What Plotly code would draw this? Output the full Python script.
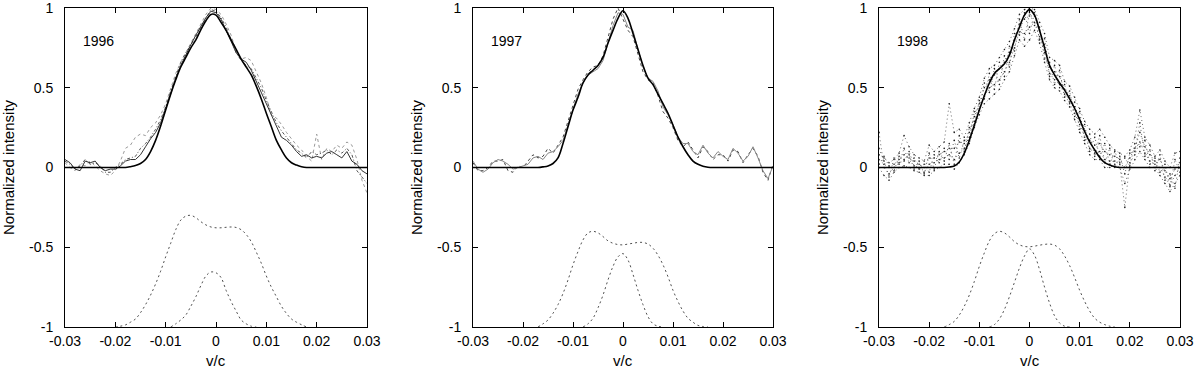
import plotly.graph_objects as go

# ---------------- data ----------------
V = [-0.030, -0.029, -0.028, -0.027, -0.026, -0.025, -0.024, -0.023, -0.022, -0.021,
     -0.020, -0.019, -0.018, -0.017, -0.016, -0.015, -0.014, -0.013, -0.012, -0.011,
     -0.010, -0.009, -0.008, -0.007, -0.006, -0.005, -0.004, -0.003, -0.002, -0.001,
     0.000, 0.001, 0.002, 0.003, 0.004, 0.005, 0.006, 0.007, 0.008, 0.009,
     0.010, 0.011, 0.012, 0.013, 0.014, 0.015, 0.016, 0.017, 0.018, 0.019,
     0.020, 0.021, 0.022, 0.023, 0.024, 0.025, 0.026, 0.027, 0.028, 0.029, 0.030]

YEARS = ["1996", "1997", "1998"]

# model fits (solid)
MODEL_1996 = [0, 0, 0, 0, 0, 0, 0, 0, 0, 0, 0, 0, 0,
              0.005, 0.012, 0.025, 0.05, 0.1, 0.17, 0.26, 0.36, 0.46, 0.55, 0.63, 0.69, 0.75,
              0.80, 0.865, 0.92, 0.96, 0.955, 0.91, 0.86, 0.80, 0.74, 0.68, 0.63, 0.58, 0.51,
              0.43, 0.34, 0.255, 0.17, 0.11, 0.06, 0.03, 0.015, 0.005,
              0, 0, 0, 0, 0, 0, 0, 0, 0, 0, 0, 0, 0]
MODEL_1997 = [0, 0, 0, 0, 0, 0, 0, 0, 0, 0, 0, 0, 0, 0,
              0.004, 0.01, 0.025, 0.06, 0.15, 0.255, 0.36, 0.44, 0.53, 0.58, 0.61, 0.64, 0.69,
              0.78, 0.86, 0.935, 0.983, 0.935, 0.84, 0.74, 0.64, 0.56, 0.52, 0.46, 0.40, 0.34,
              0.265, 0.19, 0.13, 0.08, 0.04, 0.02, 0.008, 0.002,
              0, 0, 0, 0, 0, 0, 0, 0, 0, 0, 0, 0, 0]
MODEL_1998 = [0, 0, 0, 0, 0, 0, 0, 0, 0, 0, 0, 0, 0, 0,
              0.003, 0.01, 0.035, 0.09, 0.17, 0.265, 0.36, 0.45, 0.53, 0.59, 0.62, 0.65, 0.705,
              0.80, 0.88, 0.955, 0.99, 0.955, 0.86, 0.75, 0.64, 0.58, 0.53, 0.485, 0.43, 0.37,
              0.30, 0.225, 0.16, 0.11, 0.063, 0.03, 0.015, 0.005,
              0, 0, 0, 0, 0, 0, 0, 0, 0, 0, 0, 0, 0]

# observed profiles 1996
OBS96_A = [0.05, 0.03, -0.01, -0.02, 0.04, 0.03, 0.04, 0.0, -0.02, -0.01,
           -0.01, 0.01, 0.04, 0.05, 0.05, 0.08, 0.13, 0.18, 0.22, 0.28,
           0.37, 0.47, 0.56, 0.64, 0.71, 0.77, 0.83, 0.89, 0.94, 0.98,
           0.97, 0.93, 0.86, 0.78, 0.72, 0.68, 0.66, 0.61, 0.54, 0.47,
           0.39, 0.32, 0.25, 0.19, 0.17, 0.14, 0.10, 0.07, 0.08, 0.06,
           0.07, 0.06, 0.09, 0.10, 0.08, 0.06, 0.10, 0.04, 0.02, -0.02, -0.04]
OBS96_B = [0.03, 0.0, -0.02, 0.02, 0.01, 0.04, 0.01, -0.02, -0.04, -0.05,
           -0.02, 0.04, 0.12, 0.14, 0.19, 0.21, 0.20, 0.25, 0.28, 0.33,
           0.40, 0.50, 0.59, 0.66, 0.72, 0.78, 0.85, 0.91, 0.96, 1.0,
           0.99, 0.96, 0.90, 0.83, 0.73, 0.68, 0.69, 0.67, 0.60, 0.53,
           0.44, 0.33, 0.31, 0.27, 0.22, 0.18, 0.14, 0.11, 0.07, 0.04,
           0.21, 0.05, 0.12, 0.10, 0.14, 0.12, 0.16, 0.14, 0.05, -0.08, -0.16]
OBS96_C = [0.04, 0.02, -0.01, 0.01, 0.05, 0.02, 0.03, 0.01, -0.03, -0.03,
           0.0, 0.02, 0.05, 0.06, 0.07, 0.12, 0.15, 0.19, 0.24, 0.30,
           0.38, 0.48, 0.57, 0.66, 0.72, 0.77, 0.82, 0.88, 0.94, 0.99,
           0.98, 0.94, 0.88, 0.80, 0.72, 0.67, 0.64, 0.62, 0.56, 0.50,
           0.42, 0.35, 0.28, 0.23, 0.19, 0.15, 0.11, 0.09, 0.06, 0.10,
           0.08, 0.09, 0.11, 0.08, 0.11, 0.09, 0.12, 0.08, -0.02, -0.06, -0.10]

# observed profiles 1997
OBS97_A = [0.04, -0.01, -0.03, -0.01, 0.03, 0.05, 0.04, 0.02, -0.01, 0.0,
           0.01, 0.02, 0.06, 0.07, 0.05, 0.09, 0.10, 0.13, 0.17, 0.27,
           0.37, 0.46, 0.53, 0.58, 0.60, 0.62, 0.67, 0.78, 0.89, 0.97,
           0.96, 0.88, 0.86, 0.74, 0.63, 0.56, 0.54, 0.48, 0.38, 0.33,
           0.27, 0.19, 0.15, 0.15, 0.10, 0.08, 0.14, 0.09, 0.06, 0.10,
           0.07, 0.05, 0.12, 0.09, 0.04, 0.07, 0.13, 0.06, -0.02, -0.07, 0.01]
OBS97_B = [0.03, -0.02, -0.02, 0.0, 0.04, 0.04, 0.05, -0.02, -0.03, 0.01,
           0.0, 0.04, 0.08, 0.06, 0.07, 0.12, 0.09, 0.14, 0.19, 0.29,
           0.39, 0.49, 0.55, 0.60, 0.63, 0.64, 0.70, 0.82, 0.93, 1.0,
           0.93, 0.86, 0.82, 0.71, 0.60, 0.55, 0.53, 0.45, 0.35, 0.31,
           0.25, 0.17, 0.13, 0.16, 0.11, 0.06, 0.13, 0.10, 0.05, 0.08,
           0.08, 0.04, 0.11, 0.10, 0.03, 0.08, 0.12, 0.07, -0.03, -0.08, 0.02]

# observed profiles 1998 (scattered)
OBS98_A = [0.08, 0.06, 0.03, 0.05, 0.09, 0.20, 0.13, 0.08, 0.06, 0.04,
           0.14, 0.10, 0.13, 0.16, 0.40, 0.22, 0.24, 0.19, 0.28, 0.37,
           0.44, 0.56, 0.62, 0.64, 0.69, 0.74, 0.79, 0.87, 0.96, 0.99,
           1.0, 0.99, 0.91, 0.84, 0.69, 0.67, 0.64, 0.54, 0.51, 0.44,
           0.37, 0.29, 0.24, 0.21, 0.24, 0.19, 0.14, 0.11, 0.09, 0.07,
           0.11, 0.19, 0.36, 0.19, 0.14, 0.07, 0.11, 0.04, 0.0, 0.09, 0.10]
OBS98_B = [0.0, -0.05, -0.08, -0.03, 0.0, 0.01, 0.0, -0.02, -0.03, -0.05,
           -0.05, -0.02, 0.0, 0.02, 0.02, -0.01, 0.03, 0.08, 0.15, 0.25,
           0.33, 0.40, 0.43, 0.46, 0.49, 0.55, 0.60, 0.70, 0.80, 0.76,
           0.80, 0.86, 0.78, 0.66, 0.55, 0.50, 0.48, 0.42, 0.38, 0.30,
           0.22, 0.15, 0.08, 0.05, 0.05, 0.0, 0.0, 0.02, 0.0, -0.10,
           -0.01, 0.05, 0.10, 0.05, 0.0, 0.0, -0.05, -0.10, -0.15, -0.10, -0.05]
OBS98_C = [0.05, 0.02, 0.0, 0.02, 0.05, 0.08, 0.06, 0.04, 0.02, 0.0,
           0.06, 0.06, 0.08, 0.10, 0.12, 0.12, 0.16, 0.15, 0.22, 0.32,
           0.40, 0.50, 0.55, 0.58, 0.62, 0.66, 0.72, 0.80, 0.90, 0.93,
           0.95, 0.95, 0.86, 0.77, 0.63, 0.60, 0.57, 0.49, 0.45, 0.38,
           0.31, 0.23, 0.17, 0.14, 0.15, 0.10, 0.08, 0.07, 0.05, 0.0,
           0.06, 0.12, 0.22, 0.13, 0.08, 0.04, 0.05, -0.02, -0.07, -0.01, 0.03]
OBS98_D = [0.22, 0.0, -0.04, 0.0, 0.03, 0.04, 0.10, 0.01, 0.0, -0.03,
           0.02, 0.03, 0.05, 0.06, 0.08, 0.05, 0.09, 0.12, 0.19, 0.29,
           0.37, 0.45, 0.50, 0.52, 0.55, 0.60, 0.66, 0.75, 0.85, 0.84,
           0.88, 0.91, 0.82, 0.72, 0.59, 0.55, 0.52, 0.46, 0.41, 0.34,
           0.27, 0.19, 0.12, 0.09, 0.10, 0.05, 0.04, 0.04, 0.02, -0.25,
           0.03, 0.08, 0.16, 0.09, 0.04, 0.02, 0.0, -0.06, -0.11, -0.05, 0.0]
OBS98_E = [0.12, 0.04, -0.06, 0.06, 0.02, 0.12, 0.03, 0.06, -0.01, 0.02,
           -0.03, 0.08, 0.03, 0.12, 0.05, 0.17, 0.06, 0.17, 0.17, 0.35,
           0.36, 0.53, 0.47, 0.62, 0.52, 0.70, 0.63, 0.84, 0.83, 0.97,
           0.84, 0.97, 0.80, 0.81, 0.57, 0.64, 0.50, 0.52, 0.40, 0.41,
           0.24, 0.27, 0.10, 0.19, 0.07, 0.15, 0.02, 0.10, 0.03, 0.06,
           0.01, 0.15, 0.13, 0.17, 0.02, 0.06, -0.03, 0.02, -0.12, 0.05, -0.03]
OBS98_F = [0.02, 0.07, 0.01, -0.02, 0.07, 0.05, 0.08, -0.01, 0.04, -0.04,
           0.09, -0.01, 0.10, 0.04, 0.15, 0.02, 0.20, 0.10, 0.25, 0.27,
           0.42, 0.43, 0.59, 0.49, 0.66, 0.57, 0.76, 0.73, 0.93, 0.80,
           0.97, 0.89, 0.88, 0.68, 0.66, 0.52, 0.61, 0.44, 0.48, 0.32,
           0.35, 0.17, 0.21, 0.07, 0.20, 0.03, 0.12, 0.0, 0.07, -0.04,
           0.09, 0.10, 0.28, 0.07, 0.11, -0.02, 0.08, -0.08, -0.04, -0.13, 0.06]

# decomposition components (dashed, offset by -1)
BROAD_96_X = [-0.020, -0.019, -0.018, -0.017, -0.016, -0.015, -0.014, -0.013, -0.012, -0.011,
              -0.010, -0.009, -0.008, -0.007, -0.006, -0.005, -0.004, -0.003, -0.002, -0.001,
              0.000, 0.001, 0.002, 0.003, 0.004, 0.005, 0.006, 0.007, 0.008, 0.009,
              0.010, 0.011, 0.012, 0.013, 0.014, 0.015, 0.016, 0.017, 0.018]
BROAD_96 = [-1.0, -0.995, -0.987, -0.97, -0.95, -0.91, -0.86, -0.80, -0.73, -0.65,
            -0.56, -0.475, -0.39, -0.33, -0.305, -0.30, -0.315, -0.34, -0.36, -0.373,
            -0.378, -0.378, -0.375, -0.373, -0.376, -0.39, -0.42, -0.465, -0.53, -0.60,
            -0.68, -0.75, -0.81, -0.87, -0.915, -0.95, -0.97, -0.986, -1.0]
NARROW_96_X = [-0.009, -0.008, -0.007, -0.006, -0.005, -0.004, -0.003, -0.002, -0.001,
               0.000, 0.001, 0.002, 0.003, 0.004, 0.005, 0.006, 0.007, 0.008]
NARROW_96 = [-1.0, -0.98, -0.956, -0.925, -0.87, -0.81, -0.74, -0.68, -0.655,
             -0.66, -0.69, -0.77, -0.84, -0.90, -0.956, -0.98, -0.995, -1.0]

BROAD_X = [-0.017, -0.016, -0.015, -0.014, -0.013, -0.012, -0.011, -0.010, -0.009, -0.008,
           -0.007, -0.006, -0.005, -0.004, -0.003, -0.002, -0.001, 0.000, 0.001, 0.002,
           0.003, 0.004, 0.005, 0.006, 0.007, 0.008, 0.009, 0.010, 0.011, 0.012,
           0.013, 0.014, 0.015, 0.016, 0.017]
BROAD_97 = [-1.0, -0.98, -0.956, -0.914, -0.86, -0.79, -0.705, -0.61, -0.527, -0.454,
            -0.41, -0.40, -0.41, -0.433, -0.46, -0.475, -0.483, -0.485, -0.48, -0.475,
            -0.47, -0.47, -0.48, -0.506, -0.55, -0.61, -0.685, -0.77, -0.84, -0.90,
            -0.945, -0.97, -0.99, -0.997, -1.0]
BROAD_98 = [-1.0, -0.985, -0.965, -0.925, -0.87, -0.80, -0.715, -0.62, -0.535, -0.46,
            -0.415, -0.40, -0.41, -0.435, -0.465, -0.485, -0.495, -0.497, -0.493, -0.487,
            -0.482, -0.48, -0.487, -0.51, -0.555, -0.615, -0.69, -0.77, -0.84, -0.90,
            -0.945, -0.97, -0.985, -0.995, -1.0]
NARROW_X = [-0.008, -0.007, -0.006, -0.005, -0.004, -0.003, -0.002, -0.001,
            0.000, 0.001, 0.002, 0.003, 0.004, 0.005, 0.006, 0.007, 0.008]
NARROW_97 = [-1.0, -0.98, -0.945, -0.88, -0.80, -0.705, -0.62, -0.56,
             -0.54, -0.58, -0.67, -0.77, -0.86, -0.935, -0.98, -0.995, -1.0]
NARROW_98 = [-1.0, -0.985, -0.95, -0.89, -0.81, -0.72, -0.63, -0.555,
             -0.51, -0.55, -0.64, -0.75, -0.85, -0.93, -0.975, -0.995, -1.0]

X_TICKS = [-0.03, -0.02, -0.01, 0, 0.01, 0.02, 0.03]
X_TICK_TEXT = ["-0.03", "-0.02", "-0.01", "0", "0.01", "0.02", "0.03"]
Y_TICKS = [-1, -0.5, 0, 0.5, 1]
Y_TICK_TEXT = ["-1", "-0.5", "0", "0.5", "1"]

# ---------------- figure ----------------
W, H = 1200, 375
FONT = "Liberation Sans, Arial, Helvetica, sans-serif"
x_domains = [(65 / W, 367 / W), (473 / W, 773 / W), (879 / W, 1180 / W)]
y_domain = (1 - 327 / H, 1 - 8 / H)

fig = go.Figure()


def add_line(i, x, y, color, width, dash="solid", shape="linear"):
    ax = "" if i == 0 else str(i + 1)
    fig.add_trace(go.Scatter(x=x, y=y, mode="lines", xaxis="x" + ax, yaxis="y" + ax,
                             line=dict(color=color, width=width, dash=dash, shape=shape),
                             showlegend=False, hoverinfo="skip"))


COMP_COLOR = "#505050"
COMP_DASH = "2px,3px"

# 1996
add_line(0, V, OBS96_B, "#9a9a9a", 1, "dot")
add_line(0, V, OBS96_C, "#555555", 1, "3px,2px,1px,2px")
add_line(0, V, OBS96_A, "#333333", 1, "solid")
add_line(0, BROAD_96_X, BROAD_96, COMP_COLOR, 1, COMP_DASH, "spline")
add_line(0, NARROW_96_X, NARROW_96, COMP_COLOR, 1, COMP_DASH, "spline")
add_line(0, V, MODEL_1996, "#000000", 1.6, "solid", "spline")

# 1997
add_line(1, V, OBS97_B, "#444444", 1, "dot")
add_line(1, V, OBS97_A, "#888888", 1, "solid")
add_line(1, BROAD_X, BROAD_97, COMP_COLOR, 1, COMP_DASH, "spline")
add_line(1, NARROW_X, NARROW_97, COMP_COLOR, 1, COMP_DASH, "spline")
add_line(1, V, MODEL_1997, "#000000", 1.6, "solid", "spline")

# 1998
for s in (OBS98_A, OBS98_B, OBS98_C, OBS98_D, OBS98_E, OBS98_F):
    fig.add_trace(go.Scatter(x=V, y=s, mode="lines+markers", xaxis="x3", yaxis="y3",
                             line=dict(color="#444444", width=0.8, dash="1px,3px"),
                             marker=dict(color="#222222", size=1.6),
                             showlegend=False, hoverinfo="skip"))
add_line(2, BROAD_X, BROAD_98, COMP_COLOR, 1, COMP_DASH, "spline")
add_line(2, NARROW_X, NARROW_98, COMP_COLOR, 1, COMP_DASH, "spline")
add_line(2, V, MODEL_1998, "#000000", 1.6, "solid", "spline")

axis_common = dict(showline=True, linecolor="black", linewidth=1, mirror="ticks",
                   ticks="inside", ticklen=5, tickcolor="black", tickwidth=1,
                   showgrid=False, zeroline=False, automargin=False,
                   ticklabeloverflow="allow",
                   tickfont=dict(family=FONT, size=14, color="black"))

layout = dict(template="none", width=W, height=H, paper_bgcolor="white",
              plot_bgcolor="white", margin=dict(l=0, r=0, t=0, b=0, autoexpand=False),
              showlegend=False, annotations=[])

for i in range(3):
    ax = "" if i == 0 else str(i + 1)
    layout["xaxis" + ax] = dict(axis_common, domain=x_domains[i], range=[-0.03, 0.03],
                                tickvals=X_TICKS, ticktext=X_TICK_TEXT,
                                anchor="y" + ax, ticklabelstandoff=1)
    layout["yaxis" + ax] = dict(axis_common, domain=y_domain, range=[-1, 1],
                                tickvals=Y_TICKS, ticktext=Y_TICK_TEXT,
                                anchor="x" + ax, ticklabelstandoff=8)
    # year label
    layout["annotations"].append(dict(text=YEARS[i], x=-0.0268, y=0.79, xref="x" + ax,
                                      yref="y" + ax, xanchor="left", yanchor="middle",
                                      showarrow=False,
                                      font=dict(family=FONT, size=14, color="black")))
    # axis titles
    xc = (x_domains[i][0] + x_domains[i][1]) / 2
    layout["annotations"].append(dict(text="v/c", x=xc, y=1 - 360 / H, xref="paper",
                                      yref="paper", xanchor="center", yanchor="middle",
                                      showarrow=False,
                                      font=dict(family=FONT, size=15, color="black")))
    layout["annotations"].append(dict(text="Normalized intensity",
                                      x=x_domains[i][0] - 57 / W, y=1 - 167 / H,
                                      xref="paper", yref="paper", xanchor="center",
                                      yanchor="middle", textangle=-90, showarrow=False,
                                      font=dict(family=FONT, size=15, color="black")))

fig.update_layout(**layout)
fig.write_html("out.html", config={"displayModeBar": False},
               post_script="document.body.style.margin='0px';document.body.style.overflow='hidden';")
